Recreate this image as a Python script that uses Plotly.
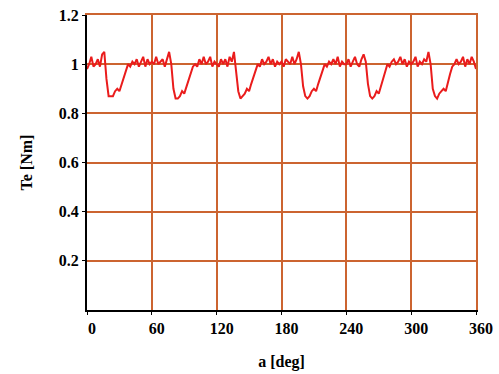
import plotly.graph_objects as go

# angle in degrees, 2-degree steps
angle_deg = list(range(0, 362, 2))

torque_p1 = [0.98, 1.00, 1.03, 0.99, 1.00, 1.02, 0.99, 1.04, 1.05, 0.94, 0.87, 0.87, 0.87, 0.89, 0.90,
             0.89, 0.92, 0.94, 0.97, 1.00, 0.99, 1.01, 1.00, 1.02, 0.99, 1.01, 1.03, 0.99, 1.02, 1.00]
torque_p2 = [1.01, 1.00, 1.03, 1.00, 1.01, 1.02, 0.99, 1.02, 1.05, 1.00, 0.90, 0.86, 0.86, 0.87, 0.89,
             0.88, 0.91, 0.93, 0.96, 0.99, 1.00, 0.99, 1.02, 1.00, 1.03, 1.00, 1.01, 1.03, 0.99, 1.01]
torque_p3 = [1.00, 0.99, 1.02, 1.00, 1.02, 0.99, 1.03, 1.01, 1.05, 0.98, 0.89, 0.86, 0.87, 0.88, 0.90,
             0.89, 0.92, 0.95, 0.98, 1.00, 0.99, 1.02, 1.00, 1.01, 1.03, 1.00, 1.02, 0.99, 1.01, 1.00]
torque_p4 = [1.01, 0.99, 1.02, 1.01, 1.00, 1.03, 1.00, 1.02, 1.05, 1.00, 0.91, 0.87, 0.86, 0.87, 0.89,
             0.90, 0.89, 0.92, 0.95, 0.98, 1.00, 0.99, 1.01, 1.00, 1.02, 1.00, 1.03, 0.99, 1.01, 1.00]
torque_p5 = [1.00, 1.02, 0.99, 1.01, 1.03, 1.00, 0.99, 1.02, 1.04, 1.01, 0.92, 0.87, 0.86, 0.87, 0.89,
             0.88, 0.91, 0.94, 0.97, 1.00, 0.99, 1.01, 1.02, 1.00, 1.01, 1.03, 1.00, 1.02, 0.99, 1.01]
torque_p6 = [1.00, 1.01, 1.03, 0.99, 1.01, 1.00, 1.02, 1.01, 1.05, 1.00, 0.90, 0.87, 0.86, 0.88, 0.89,
             0.90, 0.89, 0.93, 0.96, 0.99, 1.00, 1.02, 1.00, 1.01, 1.03, 0.99, 1.02, 1.00, 1.03, 1.01]
torque_end = [0.98]

torque = torque_p1 + torque_p2 + torque_p3 + torque_p4 + torque_p5 + torque_p6 + torque_end

x_ticks = [0, 60, 120, 180, 240, 300, 360]
x_tick_text = ["0", "60", "120", "180", "240", "300", "360"]
y_ticks = [0.2, 0.4, 0.6, 0.8, 1.0, 1.2]
y_tick_text = ["0.2", "0.4", "0.6", "0.8", "1", "1.2"]

GRID = "#cc6430"
FONT = "Liberation Serif"

fig = go.Figure()
# empty helper trace so the top/right frame axes are drawn
fig.add_trace(go.Scatter(x=[None], y=[None], xaxis="x2", yaxis="y2", mode="lines",
                         showlegend=False, hoverinfo="skip"))
fig.add_trace(go.Scatter(x=angle_deg, y=torque, mode="lines",
                         line=dict(color="#ea1c1c", width=2), showlegend=False))

fig.update_layout(
    width=499, height=374,
    margin=dict(l=87, r=23, t=15, b=64),
    paper_bgcolor="white", plot_bgcolor="white",
    font=dict(family=FONT, size=16, color="black"),
    xaxis2=dict(overlaying="x", side="top", anchor="y", range=[0, 360], showline=True, linecolor=GRID,
                linewidth=1.5, showgrid=False, showticklabels=False, ticks="", zeroline=False),
    yaxis2=dict(overlaying="y", side="right", anchor="x", range=[0, 1.2], showline=True, linecolor=GRID,
                linewidth=1.5, showgrid=False, showticklabels=False, ticks="", zeroline=False),
    xaxis=dict(
        range=[0, 360], tickvals=x_ticks, ticktext=["<b>%s</b>" % t for t in x_tick_text],
        ticks="outside", ticklen=3, tickcolor="black", automargin=False,
        showgrid=True, gridcolor=GRID, gridwidth=1.5,
        showline=True, linecolor="black", linewidth=2, zeroline=False,
        tickfont=dict(family=FONT, size=16, color="black", weight="bold"),
        ticklabelshift=5,
        title=dict(text="<b>a [deg]</b>", font=dict(family=FONT, size=16), standoff=20),
    ),
    yaxis=dict(
        range=[0, 1.2], tickvals=y_ticks, ticktext=["<b>%s</b>" % t for t in y_tick_text],
        ticks="outside", ticklen=3, tickcolor="black", automargin=False,
        showgrid=True, gridcolor=GRID, gridwidth=1.5,
        showline=True, linecolor="black", linewidth=2, zeroline=False,
        tickfont=dict(family=FONT, size=16, color="black", weight="bold"),
        title=dict(text="<b>Te [Nm]</b>", font=dict(family=FONT, size=16), standoff=22),
    ),
)

fig.write_html("out.html")
